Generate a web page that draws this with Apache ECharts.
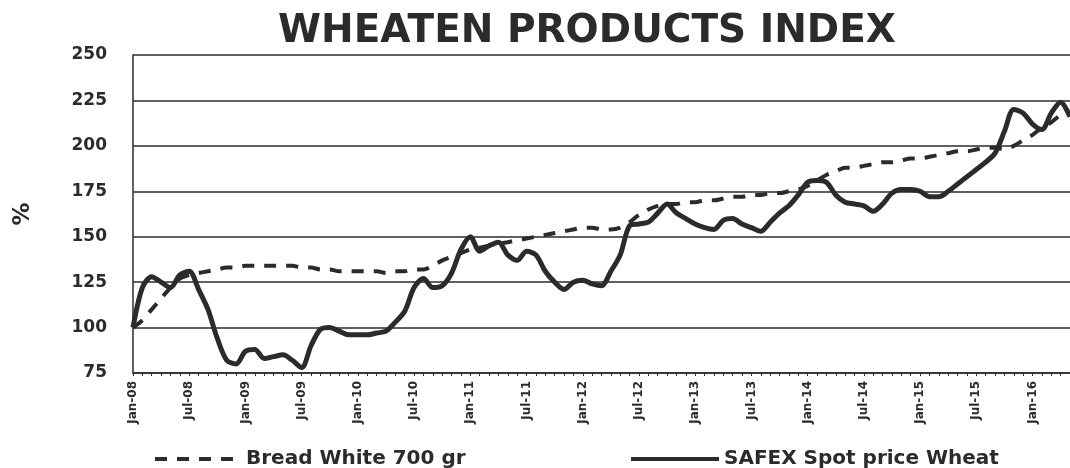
<!DOCTYPE html>
<html lang="en">
<head>
    <meta charset="UTF-8">
    <title>Wheaten Products Index</title>
    <script src="https://cdn.jsdelivr.net/npm/echarts@6/dist/echarts.min.js"></script>
    <style>
        body { margin: 0; background: #fff; }
        #chart { width: 1070px; height: 468px; }
    </style>
</head>
<body>
<div id="chart"></div>
<script>
    // monthly, Jan-08 .. May-16
    const monthNames = ['Jan', 'Feb', 'Mar', 'Apr', 'May', 'Jun', 'Jul', 'Aug', 'Sep', 'Oct', 'Nov', 'Dec'];
    const months = [];
    for (let y = 8; y <= 16; y++) {
        for (let m = 0; m < 12; m++) {
            if (y === 16 && m > 4) break;
            months.push(monthNames[m] + '-' + String(y).padStart(2, '0'));
        }
    }

    const breadWhite = [
        100, 104, 110, 116, 122, 127, 129, 130, 131, 132, 133, 133,
        134, 134, 134, 134, 134, 134, 133, 133, 132, 132, 131, 131,
        131, 131, 131, 130, 131, 131, 132, 132, 134, 137, 139, 141,
        143, 144, 145, 146, 147, 148, 149, 150, 151, 152, 153, 154,
        155, 155, 154, 154, 155, 158, 162, 165, 167, 168, 168, 169,
        169, 170, 170, 171, 172, 172, 173, 173, 174, 174, 175, 176,
        178, 181, 184, 186, 188, 188, 189, 190, 191, 191, 192, 193,
        193, 194, 195, 196, 197, 197, 198, 199, 199, 198, 200, 203,
        206, 210, 213, 217, 219
    ];

    const safexWheat = [
        100, 122, 128, 125, 122, 129, 131, 121, 110, 94, 82, 80,
        87, 88, 83, 84, 85, 82, 78, 90, 99, 100, 98, 96,
        96, 96, 97, 98, 103, 109, 122, 127, 122, 123, 130, 143,
        150, 142, 145, 147, 140, 137, 142, 140, 131, 125, 121, 125,
        126, 124, 123, 131, 140, 156, 157, 158, 163, 168, 163, 160,
        157, 155, 154, 159, 160, 157, 155, 153, 158, 163, 167, 173,
        180, 181, 180, 173, 169, 168, 167, 164, 168, 174, 176, 176,
        175, 172, 172, 175, 179, 183, 187, 191, 196, 208, 220, 218,
        212, 209, 218, 224, 216
    ];

    const ink = '#2b2b2b';
    const chart = echarts.init(document.getElementById('chart'));

    const legendText = { fontFamily: 'DejaVu Sans', fontWeight: 'bold', fontSize: 20, color: ink };

    chart.setOption({
        animation: false,
        title: {
            text: 'WHEATEN PRODUCTS INDEX',
            left: 582,
            textAlign: 'center',
            top: 7,
            textStyle: { fontFamily: 'DejaVu Sans', fontWeight: 'bold', fontSize: 39, color: ink }
        },
        legend: [
            {
                data: ['Bread White 700 gr'],
                left: 148, top: 444,
                itemWidth: 86, itemHeight: 12, itemGap: 6,
                itemStyle: { opacity: 0 },
                lineStyle: { width: 4 },
                textStyle: legendText
            },
            {
                data: ['SAFEX Spot price Wheat'],
                left: 624, top: 444,
                itemWidth: 88, itemHeight: 12, itemGap: 6,
                itemStyle: { opacity: 0 },
                lineStyle: { width: 4 },
                textStyle: legendText
            }
        ],
        grid: { left: 133, right: 0, top: 55, bottom: 95, containLabel: false },
        xAxis: {
            type: 'category',
            data: months,
            boundaryGap: false,
            axisLine: { lineStyle: { color: ink, width: 1.5 } },
            axisTick: { interval: 0, length: 3, lineStyle: { color: ink } },
            axisLabel: {
                interval: 5,
                rotate: 90,
                margin: 8,
                fontFamily: 'DejaVu Sans',
                fontWeight: 'bold',
                fontSize: 12,
                color: ink
            },
            splitLine: { show: false }
        },
        yAxis: {
            type: 'value',
            min: 75,
            max: 250,
            interval: 25,
            name: '%',
            nameLocation: 'middle',
            nameRotate: 90,
            nameGap: 98,
            nameTextStyle: { fontFamily: 'DejaVu Sans', fontWeight: 'bold', fontSize: 23, color: ink },
            axisLine: { show: true, lineStyle: { color: ink, width: 1.5 } },
            axisTick: { show: false },
            axisLabel: {
                margin: 26,
                fontFamily: 'DejaVu Sans',
                fontWeight: 'bold',
                fontSize: 17,
                color: ink
            },
            splitLine: { lineStyle: { color: ink, width: 1.5 } }
        },
        series: [
            {
                name: 'Bread White 700 gr',
                type: 'line',
                data: breadWhite,
                symbol: 'none',
                smooth: 0.3,
                lineStyle: { color: ink, width: 4, type: [12, 10] },
                itemStyle: { color: ink }
            },
            {
                name: 'SAFEX Spot price Wheat',
                type: 'line',
                data: safexWheat,
                symbol: 'none',
                smooth: 0.3,
                lineStyle: { color: ink, width: 5 },
                itemStyle: { color: ink },
                z: 3
            }
        ]
    });
</script>
</body>
</html>
